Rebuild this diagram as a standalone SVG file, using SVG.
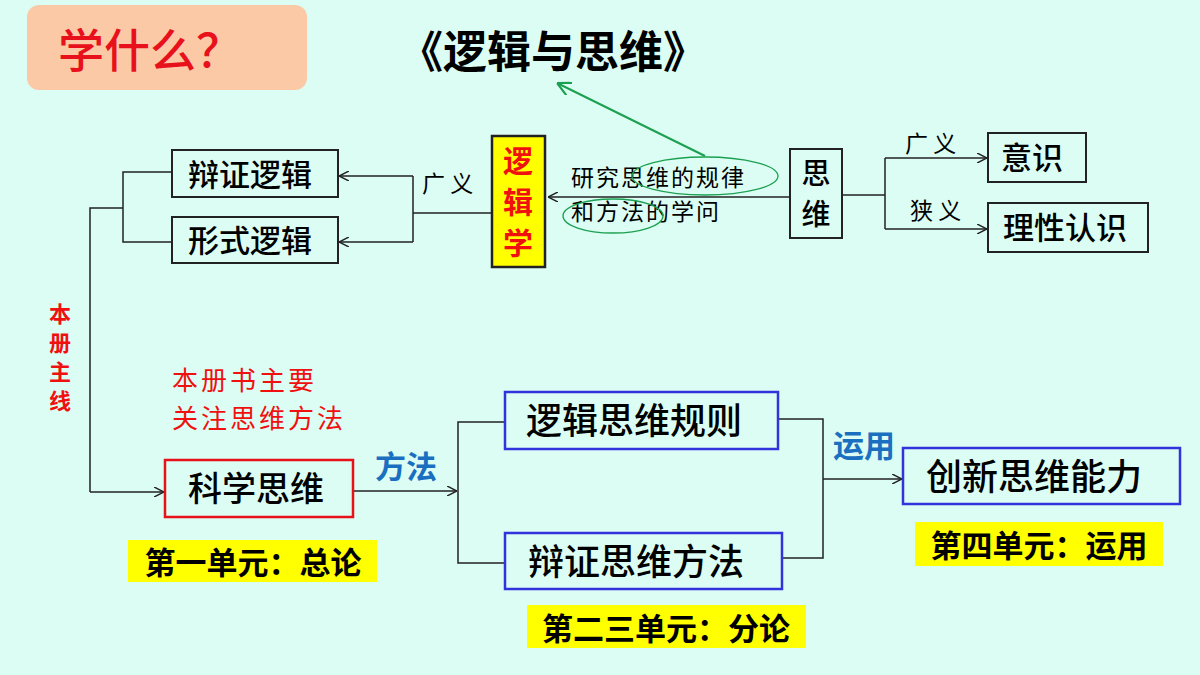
<svg xmlns="http://www.w3.org/2000/svg" width="1200" height="675" viewBox="0 0 1200 675">
<style>
text{font-family:"Noto Sans CJK SC","Liberation Sans",sans-serif;fill:#000;font-weight:500}
.b{font-weight:bold}
.box{fill:none;stroke:#222;stroke-width:2}
.bl{fill:none;stroke:#3333dd;stroke-width:2.5}
.ln{fill:none;stroke:#222;stroke-width:1.5}
.yl{fill:#ffff00}
.s{font-size:23px;font-weight:400}
</style>
<defs>
<marker id="a" viewBox="0 0 10 10" refX="10" refY="5" markerWidth="10" markerHeight="10" markerUnits="userSpaceOnUse" orient="auto"><path d="M0,0L10,5L0,10" fill="none" stroke="#222" stroke-width="1.5"/></marker>
<marker id="g" viewBox="0 0 10 10" refX="10" refY="5" markerWidth="14" markerHeight="14" markerUnits="userSpaceOnUse" orient="auto"><path d="M0,0L10,5L0,10" fill="none" stroke="#1aa050" stroke-width="1.5"/></marker>
</defs>
<rect width="1200" height="675" fill="#dcfdf3"/>
<g id="title"><rect x="27" y="5" width="280" height="85" rx="12" fill="#fbc9a6"/><text x="58" y="67" font-size="46" style="fill:#e8101a">学什么？</text></g>
<text x="553" y="68" font-size="44" class="b" text-anchor="middle">《逻辑与思维》</text>
<g id="connectors">
<line x1="705" y1="156" x2="557" y2="83" stroke="#1aa050" stroke-width="2" marker-end="url(#g)"/>
<path class="ln" d="M492,213H413M413,176V242"/>
<line class="ln" x1="413" y1="176" x2="339" y2="176" marker-end="url(#a)"/>
<line class="ln" x1="413" y1="242" x2="339" y2="242" marker-end="url(#a)"/>
<line class="ln" x1="790" y1="197" x2="548" y2="197" marker-end="url(#a)"/>
<path class="ln" d="M842,195H885M885,158V229"/>
<line class="ln" x1="885" y1="158" x2="987" y2="158" marker-end="url(#a)"/>
<line class="ln" x1="885" y1="229" x2="987" y2="229" marker-end="url(#a)"/>
<path class="ln" d="M172,172H123V242H172M123,208H90V492"/>
<line class="ln" x1="90" y1="492" x2="164" y2="492" marker-end="url(#a)"/>
<line class="ln" x1="353" y1="491" x2="457" y2="491" marker-end="url(#a)"/>
<path class="ln" d="M505,422H458V563H505"/>
<path class="ln" d="M778,419H823V558H782"/>
<line class="ln" x1="823" y1="479" x2="902" y2="479" marker-end="url(#a)"/>
</g>
<g id="n1"><rect class="box" x="172" y="150" width="166" height="47"/><text x="250" y="186" font-size="31" text-anchor="middle">辩证逻辑</text></g>
<g id="n2"><rect class="box" x="172" y="217" width="166" height="46"/><text x="250" y="252" font-size="31" text-anchor="middle">形式逻辑</text></g>
<text x="422" y="192" class="s">广 义</text>
<g id="n3"><rect x="492" y="136" width="53" height="131" fill="#ffff00" stroke="#222" stroke-width="2.5"/>
<text font-size="30" class="b" text-anchor="middle" style="fill:#f01010"><tspan x="518" y="172">逻</tspan><tspan x="518" y="213">辑</tspan><tspan x="518" y="254">学</tspan></text></g>
<text x="571" y="186" class="s" letter-spacing="2">研究思维的规律</text>
<text x="571" y="220" class="s" letter-spacing="2">和方法的学问</text>
<ellipse cx="705" cy="176" rx="73" ry="19" fill="none" stroke="#1aa050" stroke-width="1.3"/>
<ellipse cx="613" cy="216" rx="50" ry="17" fill="none" stroke="#1aa050" stroke-width="1.3"/>
<g id="n4"><rect class="box" x="790" y="149" width="52" height="89"/><text x="816" y="184" font-size="29" text-anchor="middle">思</text><text x="816" y="225" font-size="29" text-anchor="middle">维</text></g>
<text x="905" y="152" class="s">广 义</text>
<text x="910" y="219" class="s">狭 义</text>
<g id="n5"><rect class="box" x="988" y="133" width="98" height="49"/><text x="1032" y="169" font-size="31" text-anchor="middle">意识</text></g>
<g id="n6"><rect class="box" x="988" y="203" width="160" height="49"/><text x="1065" y="239" font-size="31" text-anchor="middle">理性认识</text></g>
<text font-size="22" class="b" text-anchor="middle" style="fill:#f01010"><tspan x="60" y="322">本</tspan><tspan x="60" y="351">册</tspan><tspan x="60" y="380">主</tspan><tspan x="60" y="409">线</tspan></text>
<text x="172" y="390" font-size="26" letter-spacing="3" style="fill:#f01010;font-weight:400">本册书主要</text>
<text x="172" y="428" font-size="26" letter-spacing="3" style="fill:#f01010;font-weight:400">关注思维方法</text>
<g id="n7"><rect x="165" y="460" width="188" height="57" fill="none" stroke="#e8101a" stroke-width="2.5"/><text x="256" y="501" font-size="34" text-anchor="middle">科学思维</text></g>
<rect class="yl" x="128" y="540" width="249" height="42"/><text x="253" y="574" font-size="31" class="b" text-anchor="middle">第一单元：总论</text>
<text x="375" y="478" font-size="31" class="b" style="fill:#1a6fc0">方法</text>
<g id="n8"><rect class="bl" x="505" y="392" width="273" height="57"/><text x="634" y="434" font-size="36" text-anchor="middle">逻辑思维规则</text></g>
<g id="n9"><rect class="bl" x="505" y="533" width="277" height="56"/><text x="636" y="575" font-size="36" text-anchor="middle">辩证思维方法</text></g>
<text x="833" y="457" font-size="31" class="b" style="fill:#1a6fc0">运用</text>
<g id="n10"><rect class="bl" x="903" y="448" width="277" height="56"/><text x="1034" y="490" font-size="36" text-anchor="middle">创新思维能力</text></g>
<rect class="yl" x="915" y="522" width="248" height="44"/><text x="1039" y="557" font-size="31" class="b" text-anchor="middle">第四单元：运用</text>
<rect class="yl" x="527" y="605" width="279" height="43"/><text x="666" y="640" font-size="31" class="b" text-anchor="middle">第二三单元：分论</text>
</svg>
